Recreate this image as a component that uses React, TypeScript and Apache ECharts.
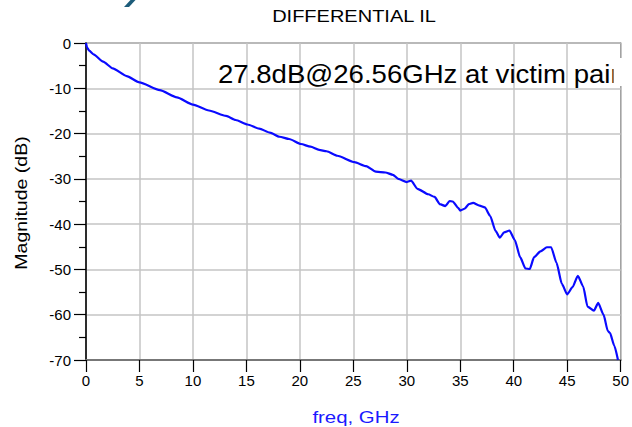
import React, { useEffect, useRef } from "react";
import * as echarts from "echarts";

const freqGHz = [
  0, 0.1, 0.3, 0.7, 1.6, 2.5, 3.8, 5.0, 6.9, 8.5, 10.0, 11.5, 13.1, 14.0, 15.1, 16.2, 17.2, 18.1, 19.0,
  20.1, 21.0, 21.8, 22.5, 23.5, 25.1, 26.2, 27.1, 28.0, 28.7, 29.2, 30.0, 30.4, 31.0, 32.0, 32.6, 33.1,
  33.6, 34.0, 34.3, 34.8, 35.0, 35.4, 35.8, 36.2, 36.8, 37.3, 37.8, 38.3, 38.7, 39.1, 39.6, 40.1, 40.6,
  41.1, 41.5, 41.9, 42.5, 43.1, 43.5, 44.0, 44.5, 45.0, 45.5, 46.0, 46.5, 46.9, 47.5, 47.9, 48.4, 48.8,
  49.0, 49.4, 49.75,
];
const magnitudeDB = [
  0, -1.0, -1.7, -2.5, -4.1, -5.6, -7.3, -8.7, -10.4, -12.0, -13.6, -14.9, -16.1, -17.0, -18.0, -18.9,
  -19.8, -20.7, -21.2, -22.3, -22.9, -23.6, -23.9, -24.9, -26.3, -27.2, -28.4, -28.6, -29.1, -30.0,
  -30.7, -30.4, -32.2, -33.4, -34.0, -35.6, -36.0, -34.9, -35.0, -36.4, -37.0, -36.6, -35.6, -35.3,
  -35.9, -36.3, -38.2, -41.5, -43.0, -41.8, -41.4, -43.5, -47.3, -49.8, -49.9, -47.3, -46.0, -45.1,
  -45.1, -48.5, -53.2, -55.5, -53.9, -51.4, -53.8, -58.2, -59.1, -57.4, -60.0, -63.6, -64.0, -66.8, -70,
];

const titleText = "DIFFERENTIAL IL";
const annotationText = "27.8dB@26.56GHz at victim pair";
const yAxisName = "Magnitude (dB)";
const xAxisName = "freq, GHz";

const FONT = "Liberation Sans, Arial, sans-serif";

export default function App() {
  const ref = useRef<HTMLDivElement>(null);
  useEffect(() => {
    if (!ref.current) return;
    const chart = echarts.init(ref.current, null, { renderer: "svg" });
    const data = freqGHz.map((f, i) => [f, magnitudeDB[i]]);
    chart.setOption({
      animation: false,
      backgroundColor: "#fff",
      grid: {
        left: 86,
        right: 9,
        top: 43,
        bottom: 67,
        show: true,
        borderColor: "#333",
        borderWidth: 1.2,
        backgroundColor: "transparent",
      },
      xAxis: {
        type: "value",
        min: 0,
        max: 50,
        interval: 5,
        axisLine: { show: true, onZero: false, lineStyle: { color: "#777", width: 2 } },
        axisTick: { show: true, length: 12, lineStyle: { color: "#000", width: 1.2 } },
        axisLabel: { margin: 13, fontSize: 15, color: "#000", fontFamily: FONT },
        splitLine: { show: true, lineStyle: { color: "#c4c4c4", width: 1.5 } },
      },
      yAxis: {
        type: "value",
        min: -70,
        max: 0,
        interval: 10,
        axisLine: { show: true, onZero: false, lineStyle: { color: "#000", width: 1.5 } },
        axisTick: { show: true, length: 12, lineStyle: { color: "#000", width: 1.2 } },
        minorTick: { show: true, splitNumber: 2, length: 7, lineStyle: { color: "#000", width: 1.2 } },
        axisLabel: { margin: 15, fontSize: 15, color: "#000", fontFamily: FONT },
        splitLine: { show: true, lineStyle: { color: "#c4c4c4", width: 1.5 } },
        minorSplitLine: { show: false },
      },
      series: [
        {
          type: "line",
          data,
          showSymbol: false,
          smooth: 0.2,
          smoothMonotone: "x",
          lineStyle: { color: "#0a0aff", width: 2.2 },
          z: 5,
        },
      ],
      graphic: [
        {
          type: "polygon",
          shape: { points: [[124, 7], [129, 7], [135.5, 0], [130.5, 0]] },
          style: { fill: "#1d5c7a" },
        },
        {
          type: "text",
          x: 354,
          y: 17,
          scaleX: 1.25,
          style: {
            text: titleText,
            fontSize: 16,
            fontFamily: FONT,
            fill: "#000",
            align: "center",
            verticalAlign: "middle",
          },
        },
        {
          type: "text",
          x: 218,
          y: 74.5,
          scaleX: 1.06,
          z: 10,
          style: {
            text: annotationText,
            fontSize: 26,
            fontFamily: FONT,
            fill: "#000",
            align: "left",
            verticalAlign: "middle",
          },
        },
        {
          type: "rect",
          z: 11,
          shape: { x: 613.5, y: 58, width: 8.5, height: 28 },
          style: { fill: "#fff" },
        },
        {
          type: "text",
          x: 21,
          y: 203,
          rotation: Math.PI / 2,
          scaleX: 1.15,
          style: {
            text: yAxisName,
            fontSize: 17,
            fontFamily: FONT,
            fill: "#000",
            align: "center",
            verticalAlign: "middle",
          },
        },
        {
          type: "text",
          x: 356,
          y: 417,
          scaleX: 1.2,
          style: {
            text: xAxisName,
            fontSize: 17,
            fontFamily: FONT,
            fill: "#1a1aff",
            align: "center",
            verticalAlign: "middle",
          },
        },
      ],
    });
    return () => chart.dispose();
  }, []);
  return (
    <div
      ref={ref}
      style={{ position: "fixed", left: 0, top: 0, width: 632, height: 427 }}
    />
  );
}
